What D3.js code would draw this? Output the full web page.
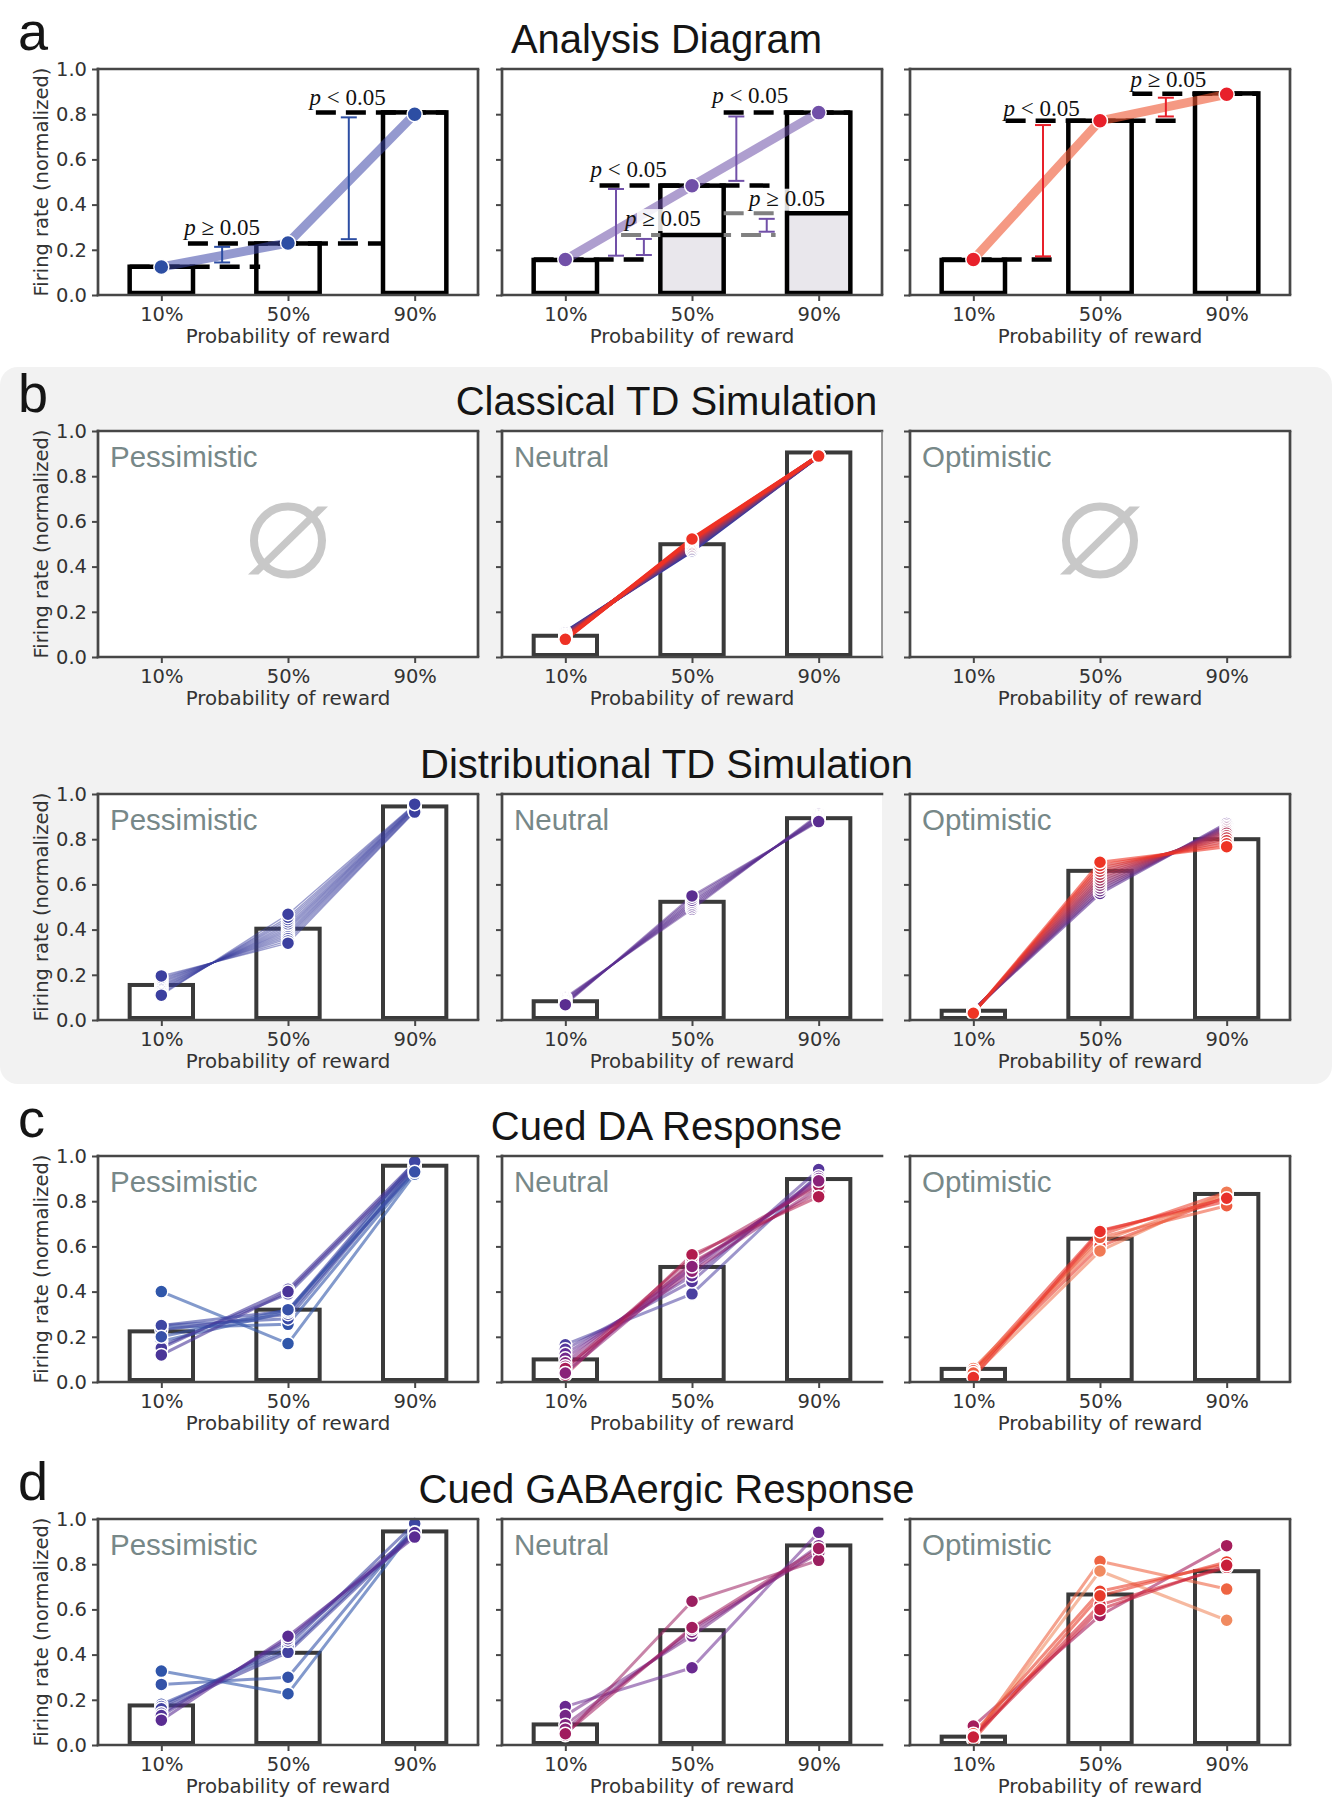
<!DOCTYPE html>
<html><head><meta charset="utf-8">
<script src="https://cdn.jsdelivr.net/npm/d3@7"></script>
<style>body{margin:0;background:#fff;} svg{display:block;}</style>
</head><body>
<svg id="fig" width="1333" height="1800"></svg>
<script>
// ---------------- DATA ----------------
const categories = ["10%", "50%", "90%"];
const yTickValues = [0, 0.2, 0.4, 0.6, 0.8, 1.0];
const columnNames = ["Pessimistic", "Neutral", "Optimistic"];
const rowTitles = ["Analysis Diagram", "Classical TD Simulation", "Distributional TD Simulation", "Cued DA Response", "Cued GABAergic Response"];
const rowLetters = ["a", "b", null, "c", "d"];
const xLabel = "Probability of reward";
const yLabel = "Firing rate (normalized)";

// Row a: analysis diagram (values in data units; level = [value, xStart, xEnd]; err = [x, lo, hi])
const aBlueBars = [0.125, 0.228, 0.808];
const aBlueMeans = [0.124, 0.230, 0.800];
const aBlueLevels = [[0.125, -0.25, 0.78], [0.228, 0.21, 1.75], [0.808, 1.22, 2.25]];
const aBlueErr = [[0.48, 0.144, 0.213], [1.48, 0.247, 0.786]];
const aBlueP = [["p", " ≥ 0.05", 0.48, 0.264, false], ["p", " < 0.05", 1.47, 0.840, false]];

const aPurpleBars = [0.155, 0.484, 0.807];
const aPurpleInner = [null, 0.265, 0.362];
const aPurpleMeans = [0.157, 0.483, 0.807];
const aPurpleLevels = [[0.157, -0.25, 0.67], [0.484, 0.27, 1.66], [0.807, 1.25, 2.25]];
const aPurpleGrayLevels = [[0.265, 0.44, 1.66], [0.362, 1.25, 1.66]];
const aPurpleErr = [[0.40, 0.174, 0.469], [0.62, 0.177, 0.248], [1.35, 0.505, 0.790], [1.59, 0.280, 0.337]];
const aPurpleP = [["p", " < 0.05", 1.46, 0.850, false], ["p", " < 0.05", 0.50, 0.520, false],
                  ["p", " ≥ 0.05", 0.77, 0.305, true], ["p", " ≥ 0.05", 1.75, 0.395, true]];

const aRedBars = [0.155, 0.771, 0.892];
const aRedMeans = [0.157, 0.771, 0.888];
const aRedLevels = [[0.157, -0.25, 0.675], [0.771, 0.255, 1.66], [0.890, 1.255, 2.25]];
const aRedErr = [[0.55, 0.171, 0.752], [1.52, 0.790, 0.873]];
const aRedP = [["p", " < 0.05", 0.54, 0.790, false], ["p", " ≥ 0.05", 1.54, 0.919, false]];

// Row b (classical)
const clsNeutralBars = [0.094, 0.499, 0.905];
const clsNeutralLines = [
  [0.110, 0.470, 0.890], [0.106, 0.477, 0.890], [0.101, 0.484, 0.890],
  [0.097, 0.491, 0.890], [0.093, 0.498, 0.890], [0.089, 0.505, 0.890],
  [0.085, 0.511, 0.890], [0.081, 0.517, 0.890], [0.078, 0.522, 0.889]
];

// Row b (distributional)
const distPessBars = [0.155, 0.404, 0.945];
const distPessLines = [
  [0.195, 0.340, 0.920], [0.188, 0.350, 0.923], [0.182, 0.360, 0.926], [0.176, 0.368, 0.929],
  [0.170, 0.376, 0.932], [0.164, 0.384, 0.935], [0.158, 0.392, 0.937], [0.152, 0.400, 0.939],
  [0.146, 0.408, 0.941], [0.140, 0.416, 0.943], [0.134, 0.425, 0.945], [0.128, 0.435, 0.948],
  [0.121, 0.445, 0.950], [0.115, 0.455, 0.952], [0.110, 0.468, 0.955]
];
const distNeutBars = [0.083, 0.523, 0.893];
const distNeutLines = [
  [0.100, 0.490, 0.910], [0.095, 0.498, 0.905], [0.090, 0.506, 0.900], [0.085, 0.514, 0.895],
  [0.080, 0.522, 0.890], [0.076, 0.530, 0.886], [0.072, 0.540, 0.882], [0.068, 0.549, 0.878]
];
const distOptBars = [0.041, 0.660, 0.800];
const distOptLines = [
  [0.045, 0.560, 0.870], [0.044, 0.572, 0.862], [0.042, 0.584, 0.855], [0.040, 0.596, 0.848],
  [0.039, 0.608, 0.841], [0.037, 0.620, 0.834], [0.036, 0.632, 0.826], [0.034, 0.645, 0.815],
  [0.033, 0.658, 0.805], [0.032, 0.671, 0.793], [0.031, 0.684, 0.780], [0.030, 0.698, 0.767]
];

// Row c (cued DA)
const daPessBars = [0.224, 0.320, 0.957];
const daPessLines = [
  [0.400, 0.170, 0.920], [0.240, 0.255, 0.930], [0.250, 0.280, 0.950], [0.230, 0.300, 0.940],
  [0.180, 0.310, 0.960], [0.160, 0.390, 0.950], [0.150, 0.410, 0.970], [0.120, 0.400, 0.960],
  [0.250, 0.315, 0.975], [0.200, 0.320, 0.930]
];
const daNeutBars = [0.100, 0.509, 0.898];
const daNeutLines = [
  [0.165, 0.390, 0.920], [0.145, 0.445, 0.940], [0.125, 0.470, 0.910], [0.105, 0.500, 0.900],
  [0.085, 0.520, 0.880], [0.070, 0.490, 0.860], [0.050, 0.530, 0.840], [0.060, 0.550, 0.870],
  [0.030, 0.563, 0.820], [0.040, 0.511, 0.890]
];
const daOptBars = [0.058, 0.634, 0.832];
const daOptLines = [
  [0.050, 0.670, 0.800], [0.040, 0.650, 0.840], [0.060, 0.620, 0.830], [0.050, 0.600, 0.820],
  [0.030, 0.580, 0.840], [0.040, 0.640, 0.780], [0.020, 0.666, 0.813]
];

// Row d (cued GABAergic)
const gabaPessBars = [0.175, 0.408, 0.945];
const gabaPessLines = [
  [0.327, 0.227, 0.960], [0.268, 0.300, 0.970], [0.180, 0.420, 0.950], [0.170, 0.440, 0.980],
  [0.160, 0.410, 0.940], [0.140, 0.460, 0.930], [0.130, 0.470, 0.940], [0.110, 0.481, 0.920]
];
const gabaNeutBars = [0.091, 0.508, 0.883];
const gabaNeutLines = [
  [0.170, 0.342, 0.941], [0.130, 0.482, 0.882], [0.090, 0.500, 0.860], [0.070, 0.514, 0.850],
  [0.043, 0.636, 0.817], [0.050, 0.520, 0.870]
];
const gabaOptBars = [0.037, 0.666, 0.769];
const gabaOptLines = [
  [0.084, 0.573, 0.882], [0.030, 0.813, 0.690], [0.025, 0.770, 0.552], [0.050, 0.680, 0.800],
  [0.040, 0.620, 0.786], [0.022, 0.660, 0.810], [0.035, 0.600, 0.795]
];

// ---------------- STYLES ----------------
const daPessColors = ["#3057aa", "#3151a8", "#3a4aa5", "#3f45a2", "#3552a8", "#413f9f", "#46399b", "#4a3598", "#3d46a3", "#3650a8"];
const daNeutColors = ["#4a40a0", "#55369b", "#632d94", "#72278c", "#82237e", "#902071", "#9c1e63", "#a81c55", "#b01b4d", "#8a2278"];
const daOptColors = ["#e8342a", "#ec4a35", "#f06a48", "#e83a2c", "#f07a55", "#ee5c40", "#e8302a"];
const gabaPessColors = ["#2f55aa", "#3352a8", "#3a4aa5", "#3d46a2", "#4242a0", "#4a3a9c", "#523397", "#5a2c92"];
const gabaNeutColors = ["#6a2a90", "#752886", "#80257e", "#8a2378", "#9a1f60", "#a01d5e"];
const gabaOptColors = ["#a51d5b", "#ee6442", "#f08a60", "#e8402c", "#d22638", "#e83a2a", "#c8203a"];

const colLeft = [98, 502, 910];
const panelW = 380, panelH = 226;
const rowTop = [69, 431, 794, 1156, 1519];
const labelGray = "#778888";
const tickFont = "DejaVu Sans, sans-serif";
const sansFont = "Liberation Sans, Arial, Helvetica, sans-serif";

const fig = d3.select("#fig");

// gray block for panel b
fig.append("rect").attr("x", 0).attr("y", 367).attr("width", 1332).attr("height", 717)
  .attr("rx", 18).attr("fill", "#f2f2f2");

// titles and letters
rowTitles.forEach((t, r) => {
  fig.append("text").attr("x", 666.5).attr("y", rowTop[r] - 16).attr("text-anchor", "middle")
    .attr("font-family", sansFont).attr("font-size", 40).attr("fill", "#151515").text(t);
  if (rowLetters[r]) {
    fig.append("text").attr("x", 18).attr("y", rowTop[r] - 19)
      .attr("font-family", sansFont).attr("font-size", 54).attr("fill", "#151515").text(rowLetters[r]);
  }
});

function panel(row, col, opt) {
  const x = d3.scaleLinear().domain([-0.5, 2.5]).range([colLeft[col], colLeft[col] + panelW]);
  const y = d3.scaleLinear().domain([0, 1]).range([rowTop[row] + panelH, rowTop[row]]);
  const g = fig.append("g");
  g.append("rect").attr("x", x(-0.5)).attr("y", y(1)).attr("width", panelW).attr("height", panelH).attr("fill", "#fff");
  const content = g.append("g");
  const axG = g.append("g");
  // spines
  const sp = axG.append("g").attr("stroke", "#474747").attr("stroke-width", 2.7).attr("fill", "none");
  sp.append("line").attr("x1", x(-0.5)).attr("x2", x(-0.5)).attr("y1", y(0) + 1.3).attr("y2", y(1) - 1.3);
  sp.append("line").attr("x1", x(-0.5) - 1.3).attr("x2", x(2.5) + 1.3).attr("y1", y(0)).attr("y2", y(0));
  sp.append("line").attr("x1", x(-0.5) - 1.3).attr("x2", x(2.5) + 1.3).attr("y1", y(1)).attr("y2", y(1));
  if (opt.right) {
    sp.append("line").attr("x1", x(2.5)).attr("x2", x(2.5)).attr("y1", y(0)).attr("y2", y(1))
      .attr("stroke-width", opt.thinRight ? 1.5 : 2.7).attr("stroke", opt.thinRight ? "#777" : "#474747");
  }
  const ya = d3.axisLeft(y).tickValues(yTickValues).tickSize(6).tickPadding(5)
    .tickFormat(col === 0 ? d3.format(".1f") : () => "");
  const xa = d3.axisBottom(x).tickValues([0, 1, 2]).tickSize(6).tickPadding(6.5)
    .tickFormat(i => categories[i]);
  const yg = axG.append("g").attr("transform", `translate(${x(-0.5)},0)`).call(ya);
  const xg = axG.append("g").attr("transform", `translate(0,${y(0)})`).call(xa);
  [yg, xg].forEach(a => {
    a.select(".domain").remove();
    a.selectAll(".tick line").attr("stroke", "#474747").attr("stroke-width", 2);
    a.selectAll(".tick text").attr("font-family", tickFont).attr("font-size", 19.5).attr("fill", "#333");
  });
  axG.append("text").attr("x", x(1)).attr("y", y(0) + 48).attr("text-anchor", "middle")
    .attr("font-family", tickFont).attr("font-size", 19.8).attr("fill", "#333").text(xLabel);
  if (col === 0) {
    axG.append("text").attr("transform", `translate(41,${y(0.5)}) rotate(-90)`)
      .attr("text-anchor", "middle").attr("dominant-baseline", "central")
      .attr("font-family", tickFont).attr("font-size", 19.5).attr("fill", "#333").text(yLabel);
  }
  if (opt.name) {
    axG.append("text").attr("x", x(-0.5) + 12).attr("y", y(1) + 36)
      .attr("font-family", sansFont).attr("font-size", 29.5).attr("fill", labelGray).text(opt.name);
  }
  return { g: content, x, y };
}

function drawBars(p, vals, color, sw) {
  p.g.append("g").selectAll("rect").data(vals).join("rect")
    .attr("x", (d, i) => p.x(i - 0.25)).attr("width", p.x(0.25) - p.x(-0.25))
    .attr("y", d => p.y(d)).attr("height", d => p.y(0) - 2 - p.y(d))
    .attr("fill", "none").attr("stroke", color).attr("stroke-width", sw);
}

function drawNeurons(p, lines, colorOf, o) {
  const line = d3.line().x((d, i) => p.x(i)).y(d => p.y(d));
  p.g.append("g").selectAll("path").data(lines).join("path")
    .attr("d", line).attr("fill", "none").attr("stroke", (d, k) => colorOf(k))
    .attr("stroke-width", o.lw).attr("stroke-opacity", o.op).attr("stroke-linejoin", "round");
  let dots = lines.flatMap((vals, k) => vals.map((v, i) => ({ i, v, k })));
  if (o.extremesOnTop) {
    const mid = (lines.length - 1) / 2;
    dots = dots.sort((a, b) => Math.abs(a.k - mid) - Math.abs(b.k - mid));
  }
  p.g.append("g").selectAll("circle").data(dots).join("circle")
    .attr("cx", d => p.x(d.i)).attr("cy", d => p.y(d.v)).attr("r", o.r)
    .attr("fill", d => colorOf(d.k)).attr("stroke", "#fff").attr("stroke-width", o.sw);
}

function pLabel(p, lab) {
  const [sym, rest, cx, cy, boxed] = lab;
  const t = p.g.append("text").attr("x", p.x(cx)).attr("y", p.y(cy)).attr("text-anchor", "middle")
    .attr("font-family", "Liberation Serif, DejaVu Serif, serif").attr("font-size", 23).attr("fill", "#111");
  t.append("tspan").attr("font-style", "italic").text(sym);
  t.append("tspan").text(rest);
  if (boxed) {
    const b = t.node().getBBox();
    p.g.insert("rect", () => t.node()).attr("x", b.x + 14).attr("y", b.y + 3)
      .attr("width", b.width - 12).attr("height", b.height - 3)
      .attr("fill", "#fff").attr("fill-opacity", 0.85);
  }
}

function analysis(col, cfg) {
  const p = panel(0, col, { right: true });
  if (cfg.inner) {
    const innerIdx = cfg.inner.map((v, i) => ({ v, i })).filter(d => d.v !== null);
    p.g.append("g").selectAll("rect").data(innerIdx).join("rect")
      .attr("x", d => p.x(d.i - 0.25)).attr("width", p.x(0.25) - p.x(-0.25))
      .attr("y", d => p.y(d.v)).attr("height", d => p.y(0) - 2 - p.y(d.v)).attr("fill", "#e9e7ec");
  }
  drawBars(p, cfg.bars, "#000", 4.5);
  if (cfg.grayLevels) {
    p.g.append("g").selectAll("line").data(cfg.grayLevels).join("line")
      .attr("x1", d => p.x(d[1])).attr("x2", d => p.x(d[2])).attr("y1", d => p.y(d[0])).attr("y2", d => p.y(d[0]))
      .attr("stroke", "#808080").attr("stroke-width", 4).attr("stroke-dasharray", "20 10");
    const innerIdx = cfg.inner.map((v, i) => ({ v, i })).filter(d => d.v !== null);
    p.g.append("g").selectAll("line").data(innerIdx).join("line")
      .attr("x1", d => p.x(d.i - 0.25)).attr("x2", d => p.x(d.i + 0.25)).attr("y1", d => p.y(d.v)).attr("y2", d => p.y(d.v))
      .attr("stroke", "#000").attr("stroke-width", 4.5);
  }
  p.g.append("g").selectAll("line").data(cfg.levels).join("line")
    .attr("x1", d => p.x(d[1])).attr("x2", d => p.x(d[2])).attr("y1", d => p.y(d[0])).attr("y2", d => p.y(d[0]))
    .attr("stroke", "#000").attr("stroke-width", 4.5).attr("stroke-dasharray", "20 10");
  p.g.append("path").datum(cfg.means)
    .attr("d", d3.line().x((d, i) => p.x(i)).y(d => p.y(d)))
    .attr("fill", "none").attr("stroke", cfg.lineColor).attr("stroke-opacity", cfg.lineOp)
    .attr("stroke-width", 9);
  const eg = p.g.append("g").attr("stroke", cfg.dot).attr("stroke-width", 2);
  cfg.err.forEach(e => {
    eg.append("line").attr("x1", p.x(e[0])).attr("x2", p.x(e[0])).attr("y1", p.y(e[1])).attr("y2", p.y(e[2]));
    [e[1], e[2]].forEach(v => eg.append("line").attr("x1", p.x(e[0]) - 8).attr("x2", p.x(e[0]) + 8)
      .attr("y1", p.y(v)).attr("y2", p.y(v)));
  });
  p.g.append("g").selectAll("circle").data(cfg.means).join("circle")
    .attr("cx", (d, i) => p.x(i)).attr("cy", d => p.y(d)).attr("r", 7.5)
    .attr("fill", cfg.dot).attr("stroke", "#fff").attr("stroke-width", 1.5);
  cfg.p.forEach(l => pLabel(p, l));
}

analysis(0, { bars: aBlueBars, means: aBlueMeans, levels: aBlueLevels, err: aBlueErr, p: aBlueP,
  dot: "#2d4ea3", lineColor: "#3c46a8", lineOp: 0.55 });
analysis(1, { bars: aPurpleBars, inner: aPurpleInner, means: aPurpleMeans, levels: aPurpleLevels,
  grayLevels: aPurpleGrayLevels, err: aPurpleErr, p: aPurpleP,
  dot: "#7150a8", lineColor: "#6b4ea8", lineOp: 0.55 });
analysis(2, { bars: aRedBars, means: aRedMeans, levels: aRedLevels, err: aRedErr, p: aRedP,
  dot: "#e8202a", lineColor: "#ee5530", lineOp: 0.6 });

// Row b classical
function emptySet(p) {
  const cx = p.x(1), cy = p.y(0.515);
  const gg = p.g.append("g").attr("fill", "none").attr("stroke", "#c8c8c8");
  gg.append("circle").attr("cx", cx).attr("cy", cy).attr("r", 34).attr("stroke-width", 8);
  p.g.append("path").attr("d", `M${cx - 40},${cy + 34}L${cx - 29.5},${cy + 34}L${cx + 40},${cy - 34}L${cx + 29.5},${cy - 34}Z`)
    .attr("fill", "#c8c8c8");
}
const cls0 = panel(1, 0, { right: true, name: columnNames[0] });
emptySet(cls0);
const cls1 = panel(1, 1, { right: true, thinRight: true, name: columnNames[1] });
drawBars(cls1, clsNeutralBars, "#3a3a3a", 4);
const clsInterp = d3.interpolateRgb("#3b3a9d", "#ee3124");
drawNeurons(cls1, clsNeutralLines, k => clsInterp(k / (clsNeutralLines.length - 1)), { lw: 4, op: 1, r: 6.5, sw: 1.5 });
const cls2 = panel(1, 2, { right: true, name: columnNames[2] });
emptySet(cls2);

// Row b distributional
const d0 = panel(2, 0, { right: true, name: columnNames[0] });
drawBars(d0, distPessBars, "#3a3a3a", 4);
drawNeurons(d0, distPessLines, k => "#3b3f9f", { lw: 1.4, op: 0.5, r: 6.5, sw: 1.5, extremesOnTop: true });
const d1 = panel(2, 1, { right: false, name: columnNames[1] });
drawBars(d1, distNeutBars, "#3a3a3a", 4);
drawNeurons(d1, distNeutLines, k => "#5a2d90", { lw: 2, op: 0.5, r: 6.5, sw: 1.5 });
const d2 = panel(2, 2, { right: true, name: columnNames[2] });
drawBars(d2, distOptBars, "#3a3a3a", 4);
const optInterp = d3.interpolateRgb("#5b2d91", "#ee3424");
drawNeurons(d2, distOptLines, k => optInterp(k / (distOptLines.length - 1)), { lw: 3, op: 0.6, r: 6.5, sw: 1.5 });

// Row c
const c0 = panel(3, 0, { right: true, name: columnNames[0] });
drawBars(c0, daPessBars, "#3a3a3a", 4);
drawNeurons(c0, daPessLines, k => daPessColors[k], { lw: 3, op: 0.6, r: 6.5, sw: 1.5 });
const c1 = panel(3, 1, { right: false, name: columnNames[1] });
drawBars(c1, daNeutBars, "#3a3a3a", 4);
drawNeurons(c1, daNeutLines, k => daNeutColors[k], { lw: 3, op: 0.55, r: 6.5, sw: 1.5 });
const c2 = panel(3, 2, { right: true, name: columnNames[2] });
drawBars(c2, daOptBars, "#3a3a3a", 4);
drawNeurons(c2, daOptLines, k => daOptColors[k], { lw: 3, op: 0.6, r: 6.5, sw: 1.5 });

// Row d
const e0 = panel(4, 0, { right: true, name: columnNames[0] });
drawBars(e0, gabaPessBars, "#3a3a3a", 4);
drawNeurons(e0, gabaPessLines, k => gabaPessColors[k], { lw: 3, op: 0.6, r: 6.5, sw: 1.5 });
const e1 = panel(4, 1, { right: false, name: columnNames[1] });
drawBars(e1, gabaNeutBars, "#3a3a3a", 4);
drawNeurons(e1, gabaNeutLines, k => gabaNeutColors[k], { lw: 3, op: 0.55, r: 6.5, sw: 1.5 });
const e2 = panel(4, 2, { right: true, name: columnNames[2] });
drawBars(e2, gabaOptBars, "#3a3a3a", 4);
drawNeurons(e2, gabaOptLines, k => gabaOptColors[k], { lw: 3, op: 0.6, r: 6.5, sw: 1.5 });
</script>
</body></html>
